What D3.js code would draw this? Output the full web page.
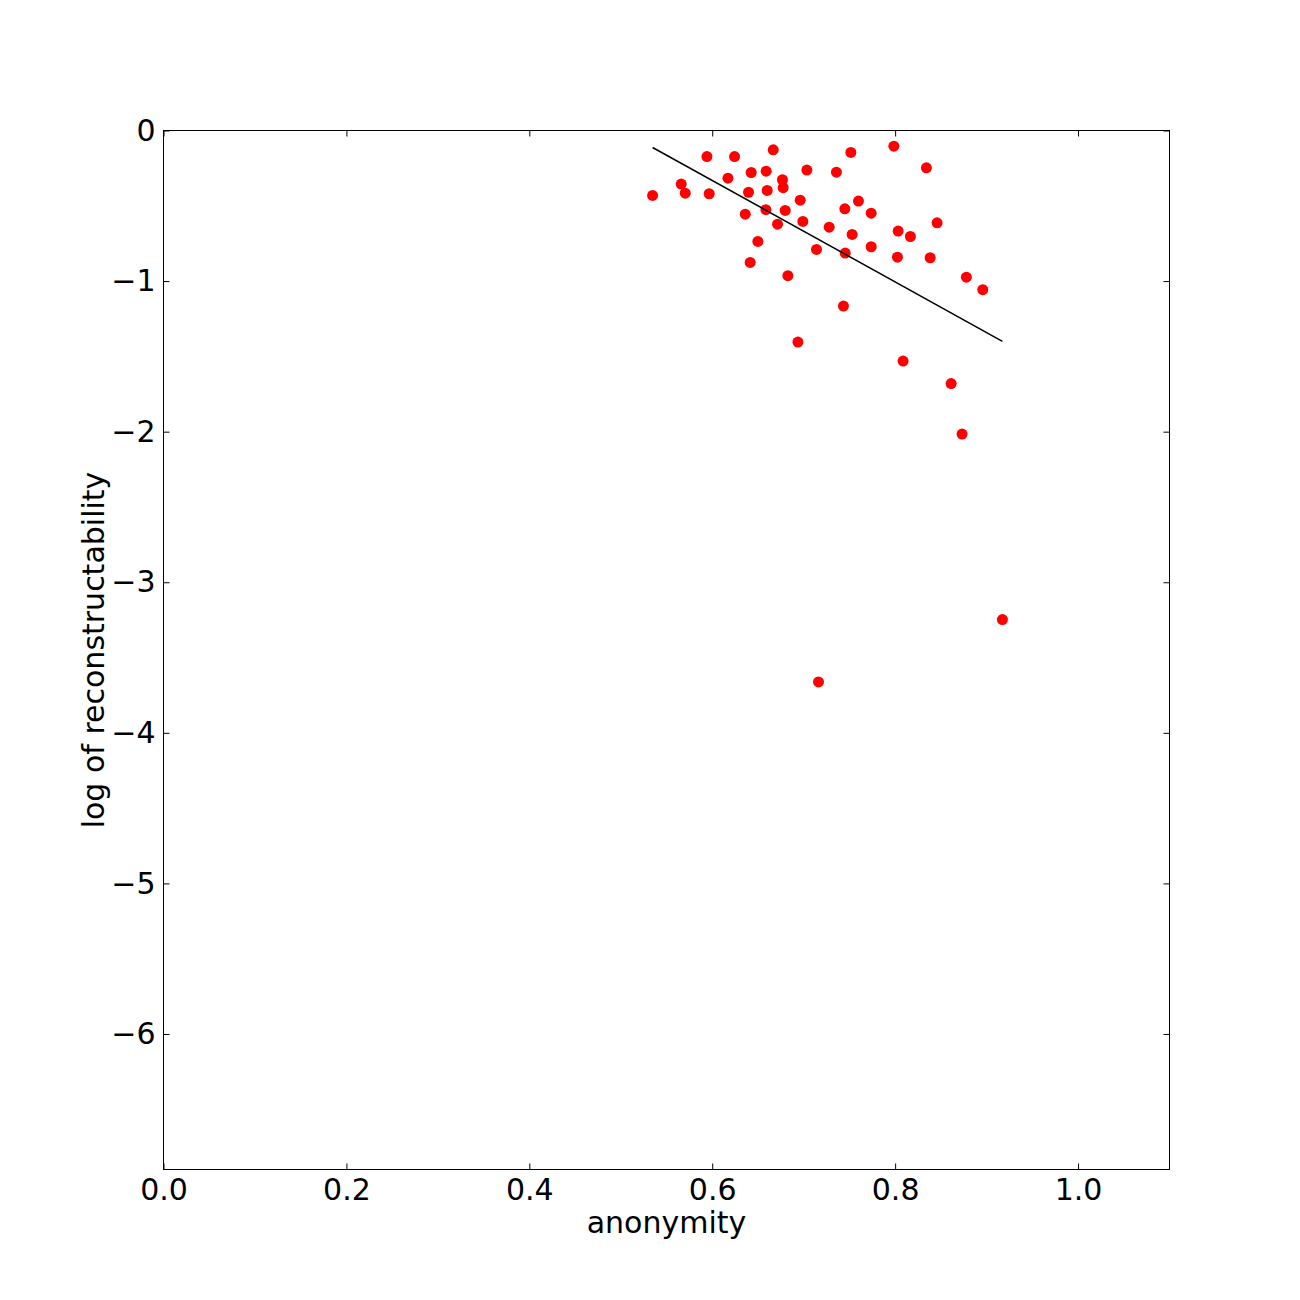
<!DOCTYPE html>
<html>
<head>
<meta charset="utf-8">
<script src="https://cdn.jsdelivr.net/npm/d3@7"></script>
<style>
  html, body { margin: 0; padding: 0; background: #fff; }
  svg { display: block; }
  text { font-family: "DejaVu Sans", sans-serif; }
</style>
</head>
<body>
<script>
// ---- data ----
const anonymity = [
  0.5348, 0.5661, 0.5705, 0.5942, 0.5967, 0.6172, 0.6244, 0.6361, 0.6426, 0.6415,
  0.6397, 0.6499, 0.6590, 0.6601, 0.6587, 0.6667, 0.6714, 0.6768, 0.6776, 0.6798,
  0.6827, 0.6937, 0.6962, 0.6991, 0.7035, 0.7140, 0.7162, 0.7279, 0.7358, 0.7435,
  0.7454, 0.7450, 0.7516, 0.7530, 0.7599, 0.7738, 0.7738, 0.7986, 0.8025, 0.8033,
  0.8087, 0.8167, 0.8342, 0.8383, 0.8459, 0.8612, 0.8732, 0.8779, 0.8958, 0.9173
];
const logRecon = [
  -0.431, -0.356, -0.416, -0.173, -0.420, -0.317, -0.173, -0.556, -0.279, -0.876,
  -0.410, -0.737, -0.270, -0.398, -0.526, -0.128, -0.622, -0.327, -0.380, -0.531,
  -0.964, -1.405, -0.463, -0.604, -0.263, -0.790, -3.662, -0.642, -0.277, -1.166,
  -0.814, -0.520, -0.146, -0.690, -0.469, -0.549, -0.772, -0.104, -0.841, -0.668,
  -1.531, -0.704, -0.248, -0.845, -0.613, -1.681, -2.016, -0.974, -1.057, -3.248
];
const fitX = [0.5348, 0.9173];
const fitY = [-0.113, -1.400];
const xTicks = [0.0, 0.2, 0.4, 0.6, 0.8, 1.0];
const xTickLabels = ["0.0", "0.2", "0.4", "0.6", "0.8", "1.0"];
const yTicks = [0, -1, -2, -3, -4, -5, -6];
const yTickLabels = ["0", "\u22121", "\u22122", "\u22123", "\u22124", "\u22125", "\u22126"];
const xDomain = [0, 1.1];
const yDomain = [-6.9, 0];
const xLabel = "anonymity";
const yLabel = "log of reconstructability";

(function () {
  // ---- layout ----
  const W = 1300, H = 1300;
  const pL = 163.5, pR = 1169.5, pT = 130.5, pB = 1169.5;
  const fs = 30;

  const svg = d3.select("body").append("svg").attr("width", W).attr("height", H);

  const x = d3.scaleLinear().domain(xDomain).range([pL, pR]);
  const y = d3.scaleLinear().domain(yDomain).range([pB, pT]);

  // points
  svg.append("g").selectAll("circle")
    .data(anonymity.map((a, i) => [a, logRecon[i]]))
    .join("circle")
    .attr("cx", d => x(d[0]))
    .attr("cy", d => y(d[1]))
    .attr("r", 5.5)
    .attr("fill", "#ff0000");

  // fit line
  svg.append("path")
    .datum(fitX.map((v, i) => [v, fitY[i]]))
    .attr("d", d3.line().x(d => x(d[0])).y(d => y(d[1])))
    .attr("stroke", "#000")
    .attr("stroke-width", 1.5)
    .attr("fill", "none");

  // axes (inward ticks on all sides)
  const tl = 6;
  const axB = d3.axisBottom(x).tickValues(xTicks).tickSize(-tl).tickPadding(9)
    .tickFormat((d, i) => xTickLabels[i]);
  const axT = d3.axisTop(x).tickValues(xTicks).tickSize(-tl).tickFormat("");
  const axL = d3.axisLeft(y).tickValues(yTicks).tickSize(-tl).tickPadding(8)
    .tickFormat((d, i) => yTickLabels[i]);
  const axR = d3.axisRight(y).tickValues(yTicks).tickSize(-tl).tickFormat("");

  function style(g) {
    g.select(".domain").remove();
    g.selectAll("line").attr("stroke", "#000").attr("stroke-width", 1);
    g.selectAll("text").attr("fill", "#000").style("font-size", fs + "px")
      .style("font-family", "'DejaVu Sans', sans-serif");
  }
  svg.append("g").attr("transform", `translate(0,${pB})`).call(axB).call(style);
  svg.append("g").attr("transform", `translate(0,${pT})`).call(axT).call(style);
  svg.append("g").attr("transform", `translate(${pL},0)`).call(axL).call(style);
  svg.append("g").attr("transform", `translate(${pR},0)`).call(axR).call(style);

  // frame
  svg.append("rect")
    .attr("x", pL).attr("y", pT)
    .attr("width", pR - pL).attr("height", pB - pT)
    .attr("fill", "none").attr("stroke", "#000").attr("stroke-width", 1);

  // axis labels
  svg.append("text")
    .attr("x", (pL + pR) / 2).attr("y", 1233)
    .attr("text-anchor", "middle")
    .style("font-size", fs + "px")
    .text(xLabel);

  svg.append("text")
    .attr("transform", `translate(104,${(pT + pB) / 2}) rotate(-90)`)
    .attr("text-anchor", "middle")
    .style("font-size", fs + "px")
    .text(yLabel);
})();
</script>
</body>
</html>
